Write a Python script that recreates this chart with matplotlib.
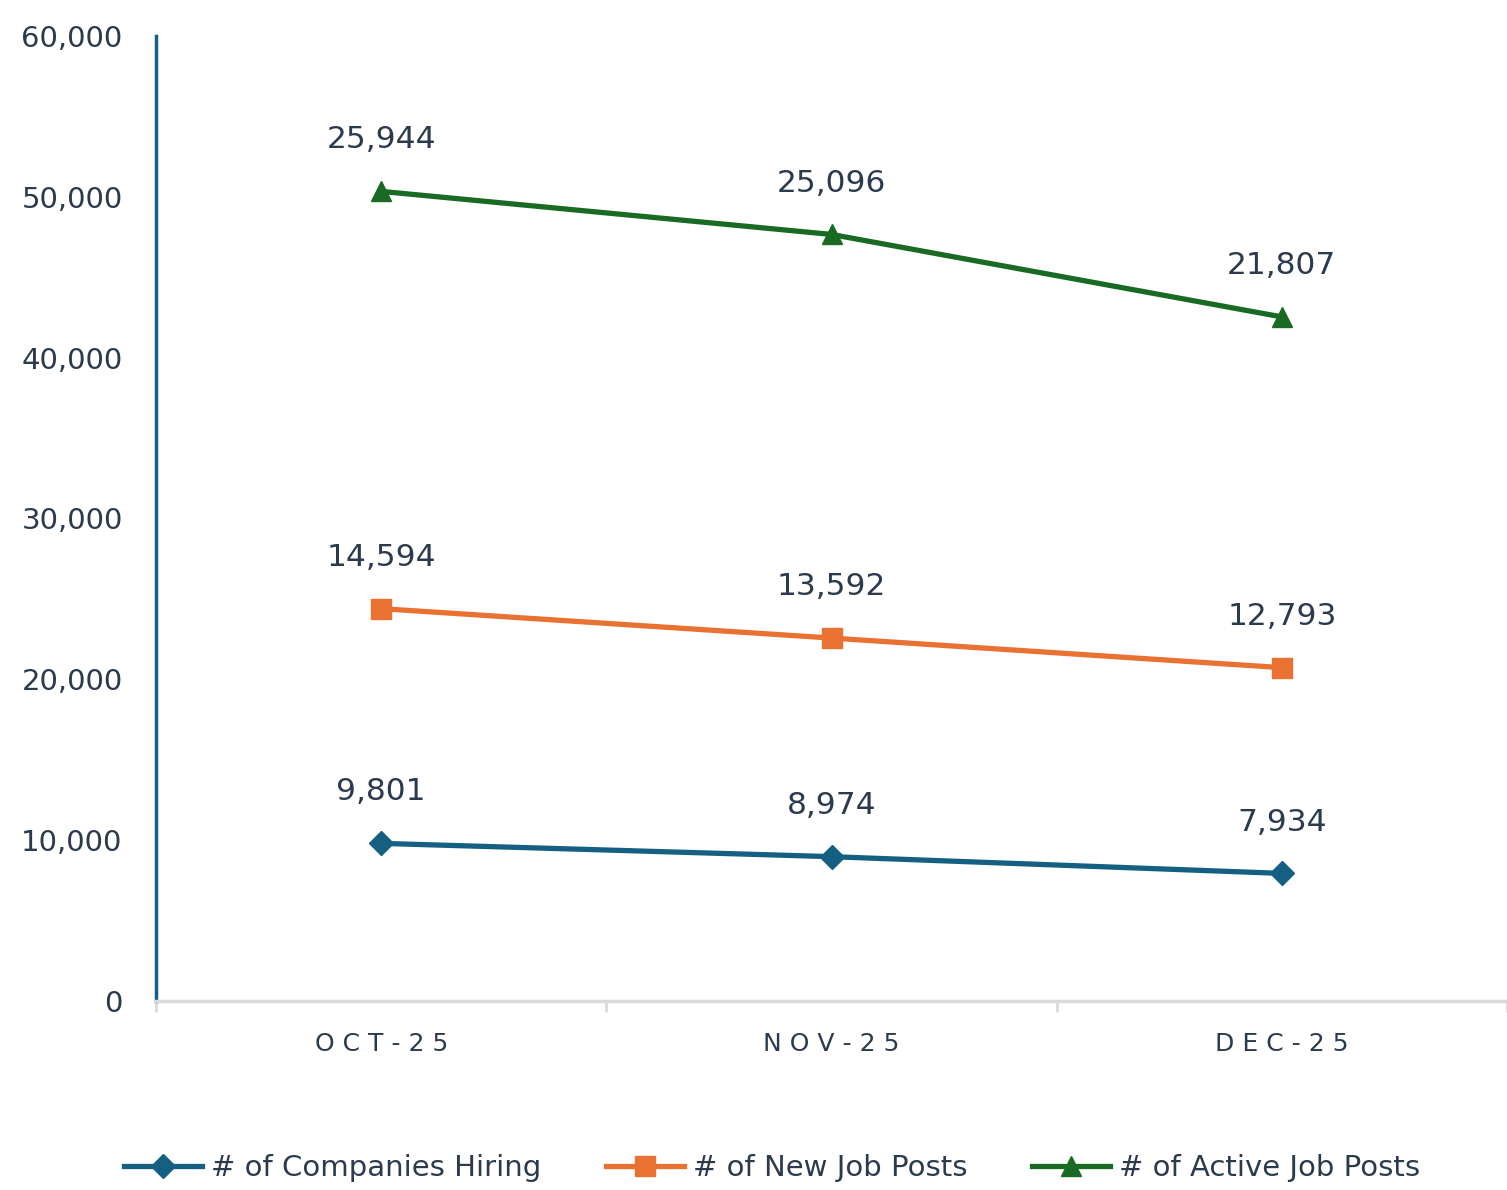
import matplotlib.pyplot as plt
import numpy as np

# monthly values (chart is a stacked line chart, labels show the raw values)
months = ["OCT-25", "NOV-25", "DEC-25"]
companies_hiring = [9801, 8974, 7934]
new_job_posts = [14594, 13592, 12793]
active_job_posts = [25944, 25096, 21807]

series_names = ["# of Companies Hiring", "# of New Job Posts", "# of Active Job Posts"]
colors = ["#156082", "#E97132", "#196B24"]
markers = ["D", "s", "^"]
marker_sizes = [12, 15, 15]
text_color = "#2B3A4C"

plt.rcParams['font.family'] = ['DejaVu Sans']

fig = plt.figure(figsize=(15.07, 11.9), dpi=100)
ax = fig.add_axes([156 / 1507, 1 - 1001 / 1190, 1 - 156 / 1507, (1001 - 36) / 1190])

x = np.arange(len(months))
raw = np.array([companies_hiring, new_job_posts, active_job_posts])
stacked = np.cumsum(raw, axis=0)

for i in range(3):
    ax.plot(x, stacked[i], color=colors[i], lw=3.8, marker=markers[i],
            markersize=marker_sizes[i], label=series_names[i], zorder=3)
    for xi, yi, v in zip(x, stacked[i], raw[i]):
        ax.annotate(f"{v:,}", (xi, yi), xytext=(0, 37), textcoords="offset points",
                    ha="center", va="center", fontsize=22.5, color=text_color)

ax.set_xlim(-0.5, 2.5)
ax.set_ylim(0, 60000)
ax.set_yticks(np.arange(0, 60001, 10000))
ax.set_yticklabels([f"{v:,}" for v in range(0, 60001, 10000)])
ax.tick_params(axis="y", length=0, pad=24, labelsize=21, labelcolor=text_color)

ax.set_xticks(x)
ax.set_xticklabels([" ".join(m) for m in months])
ax.tick_params(axis="x", which="major", length=0, pad=22, labelsize=18, labelcolor=text_color)
ax.set_xticks([-0.5, 0.5, 1.5, 2.5], minor=True)
ax.tick_params(axis="x", which="minor", length=8, width=2, color="#D9D9D9")

for s in ["top", "right"]:
    ax.spines[s].set_visible(False)
ax.spines["left"].set_color("#156082")
ax.spines["left"].set_linewidth(2.5)
ax.spines["bottom"].set_color("#D9D9D9")
ax.spines["bottom"].set_linewidth(2.5)

fig.legend(loc="center", bbox_to_anchor=(772 / 1507, 1 - 1168 / 1190), ncol=3, frameon=False,
           fontsize=21, handlelength=2.7, handletextpad=0.3, columnspacing=2.2,
           labelcolor=text_color)

fig.savefig("out.png", dpi=100)
